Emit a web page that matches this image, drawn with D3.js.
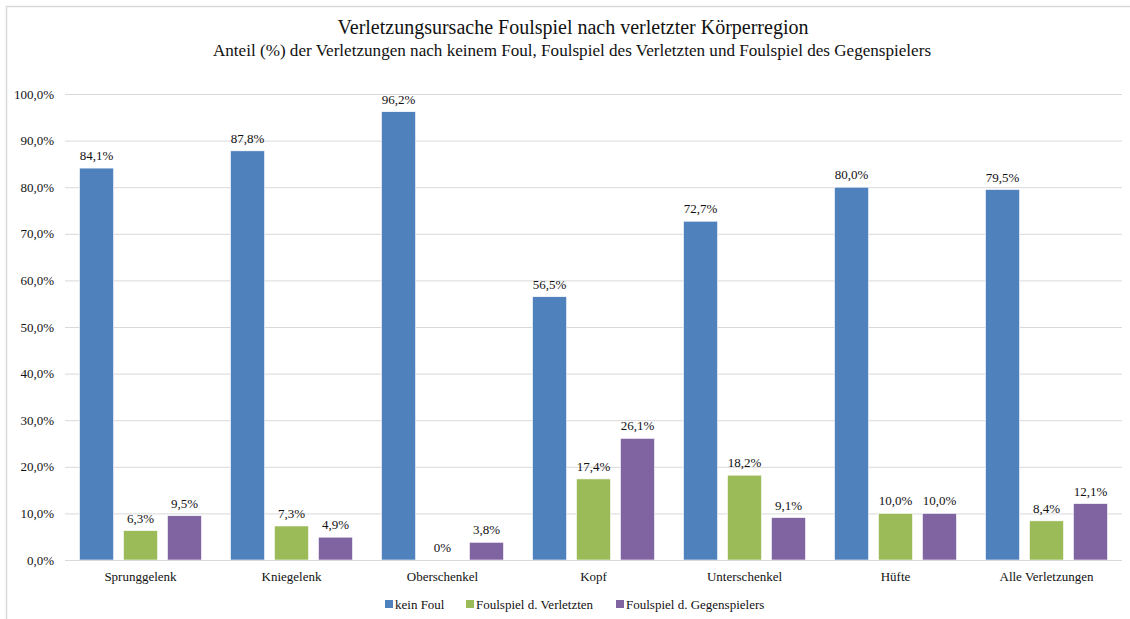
<!DOCTYPE html>
<html>
<head>
<meta charset="utf-8">
<script src="https://cdn.jsdelivr.net/npm/d3@7"></script>
<style>
  html, body { margin: 0; padding: 0; background: #fff; overflow: hidden; }
  svg { display: block; }
  svg text { font-family: "Liberation Serif", "Times New Roman", Times, serif; }
</style>
</head>
<body>
<svg id="chart" width="1130" height="619"></svg>
<script>
// Body regions and the share of injuries per foul cause (percent)
const categories = ["Sprunggelenk", "Kniegelenk", "Oberschenkel", "Kopf", "Unterschenkel", "Hüfte", "Alle Verletzungen"];
const seriesNames = ["kein Foul", "Foulspiel d. Verletzten", "Foulspiel d. Gegenspielers"];
const keinFoul = [84.1, 87.8, 96.2, 56.5, 72.7, 80.0, 79.5];
const foulVerletzter = [6.3, 7.3, 0, 17.4, 18.2, 10.0, 8.4];
const foulGegenspieler = [9.5, 4.9, 3.8, 26.1, 9.1, 10.0, 12.1];
const yTicks = [0, 10, 20, 30, 40, 50, 60, 70, 80, 90, 100];
const colors = ["#4F81BD", "#9BBB59", "#8064A2"];

const seriesValues = [keinFoul, foulVerletzter, foulGegenspieler];
const fmt = v => v === 0 ? "0%" : v.toFixed(1).replace(".", ",") + "%";
const serif = "'Liberation Serif', 'Times New Roman', Times, serif";

const svg = d3.select("#chart").attr("font-family", serif);

// chart frame
svg.append("rect")
  .attr("x", 6.5).attr("y", 6.5)
  .attr("width", 1130).attr("height", 640)
  .attr("fill", "#fff").attr("stroke", "#d9d9d9").attr("stroke-width", 1.5);

// titles
svg.append("text").attr("x", 573).attr("y", 34)
  .attr("text-anchor", "middle").attr("font-size", 20).attr("fill", "#111")
  .text("Verletzungsursache Foulspiel nach verletzter Körperregion");
svg.append("text").attr("x", 572).attr("y", 56)
  .attr("text-anchor", "middle").attr("font-size", 17.1).attr("fill", "#111")
  .text("Anteil (%) der Verletzungen nach keinem Foul, Foulspiel des Verletzten und Foulspiel des Gegenspielers");

const plotLeft = 65, plotRight = 1122, plotTop = 94, plotBottom = 560;

const x0 = d3.scaleBand().domain(categories).range([plotLeft, plotRight]).paddingInner(0).paddingOuter(0);
const x1 = d3.scaleBand().domain(d3.range(3)).range([14.5, x0.bandwidth() - 14.5]).paddingInner(0.225);
const y = d3.scaleLinear().domain([0, 100]).range([plotBottom, plotTop]);

// y axis with gridlines
const yAxis = svg.append("g").attr("transform", `translate(${plotLeft},0)`)
  .call(d3.axisLeft(y).tickValues(yTicks).tickSize(-(plotRight - plotLeft))
    .tickFormat(d => d.toFixed(1).replace(".", ",") + "%"));
yAxis.attr("font-family", serif);
yAxis.select(".domain").remove();
yAxis.selectAll(".tick line").attr("stroke", "#d9d9d9").attr("stroke-width", 1);
yAxis.selectAll(".tick text").attr("x", -11).attr("font-size", 13)
  .attr("fill", "#111").attr("font-family", serif);

// bars
const groups = svg.append("g").selectAll("g")
  .data(categories).join("g")
  .attr("transform", d => `translate(${x0(d)},0)`);

groups.each(function(cat, ci) {
  const g = d3.select(this);
  seriesValues.forEach((vals, si) => {
    const v = vals[ci];
    g.append("rect")
      .attr("x", x1(si)).attr("width", x1.bandwidth())
      .attr("y", y(v)).attr("height", y(0) - y(v))
      .attr("fill", colors[si])
      .attr("stroke", "#fff").attr("stroke-width", 0.6);
    g.append("text")
      .attr("x", x1(si) + x1.bandwidth() / 2).attr("y", y(v) - 8)
      .attr("text-anchor", "middle").attr("font-size", 13).attr("fill", "#111")
      .text(fmt(v));
  });
});

// x axis baseline and category labels
svg.append("line").attr("x1", plotLeft).attr("x2", plotRight)
  .attr("y1", plotBottom + 0.5).attr("y2", plotBottom + 0.5)
  .attr("stroke", "#d9d9d9").attr("stroke-width", 1);
svg.append("g").selectAll("text").data(categories).join("text")
  .attr("x", d => x0(d) + x0.bandwidth() / 2).attr("y", 581)
  .attr("text-anchor", "middle").attr("font-size", 13).attr("fill", "#111")
  .text(d => d);

// legend
const legendX = [385, 466, 616];
const legend = svg.append("g").selectAll("g").data(seriesNames).join("g")
  .attr("transform", (d, i) => `translate(${legendX[i]},604)`);
legend.append("rect").attr("x", 0).attr("y", -4).attr("width", 8).attr("height", 8)
  .attr("fill", (d, i) => colors[i]);
legend.append("text").attr("x", 10).attr("y", 4.5).attr("font-size", 13).attr("fill", "#111")
  .text(d => d);
</script>
</body>
</html>
